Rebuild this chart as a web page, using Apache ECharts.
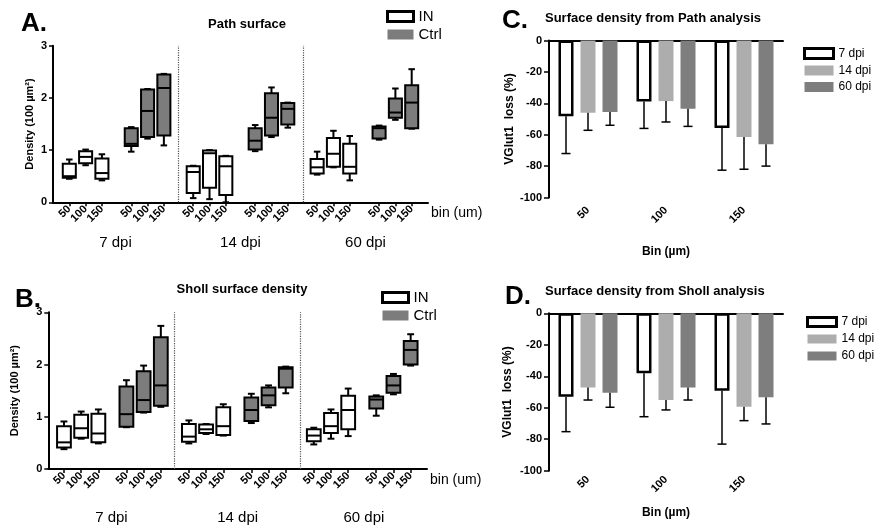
<!DOCTYPE html>
<html>
<head>
<meta charset="utf-8">
<script src="https://cdn.jsdelivr.net/npm/echarts@6/dist/echarts.min.js"></script>
<style>html,body{margin:0;padding:0;background:#fff;}#c{width:880px;height:525px;}</style>
</head>
<body>
<div id="c"></div>
<script>
// ---------- data ----------
const dpiLabels = ['7 dpi', '14 dpi', '60 dpi'];
const binLabels = ['50', '100', '150'];
// box stats: [min, Q1, median, Q3, max], ordered 7dpi(50,100,150), 14dpi(...), 60dpi(...)
const pathIN = [
  [0.45, 0.47, 0.50, 0.74, 0.82], [0.71, 0.75, 0.87, 0.98, 1.01], [0.42, 0.45, 0.56, 0.84, 0.92],
  [0.08, 0.18, 0.58, 0.69, 0.70], [0.06, 0.28, 0.94, 0.99, 1.00], [0.00, 0.14, 0.69, 0.88, 0.89],
  [0.53, 0.55, 0.67, 0.83, 0.97], [0.67, 0.68, 0.93, 1.23, 1.37], [0.42, 0.55, 0.68, 1.12, 1.27]
];
const pathCtrl = [
  [0.97, 1.08, 1.12, 1.42, 1.44], [1.22, 1.25, 1.75, 2.16, 2.17], [1.09, 1.28, 2.19, 2.45, 2.46],
  [0.98, 1.01, 1.18, 1.42, 1.48], [1.25, 1.28, 1.62, 2.09, 2.20], [1.43, 1.49, 1.79, 1.90, 1.91],
  [1.20, 1.22, 1.42, 1.45, 1.47], [1.58, 1.62, 1.72, 1.99, 2.18], [1.41, 1.42, 1.91, 2.24, 2.55]
];
const shollIN = [
  [0.38, 0.41, 0.51, 0.82, 0.91], [0.58, 0.60, 0.78, 1.04, 1.10], [0.49, 0.51, 0.68, 1.06, 1.14],
  [0.49, 0.52, 0.62, 0.86, 0.93], [0.67, 0.69, 0.76, 0.85, 0.86], [0.64, 0.65, 0.82, 1.18, 1.24],
  [0.47, 0.53, 0.64, 0.76, 0.79], [0.58, 0.69, 0.82, 1.07, 1.14], [0.63, 0.76, 1.13, 1.40, 1.54]
];
const shollCtrl = [
  [0.80, 0.81, 1.05, 1.58, 1.70], [1.08, 1.09, 1.32, 1.87, 1.98], [1.19, 1.21, 1.60, 2.52, 2.74],
  [0.88, 0.92, 1.13, 1.37, 1.44], [1.18, 1.22, 1.41, 1.56, 1.60], [1.45, 1.56, 1.92, 1.95, 1.96],
  [1.02, 1.16, 1.33, 1.39, 1.41], [1.43, 1.46, 1.60, 1.78, 1.82], [1.98, 2.00, 2.28, 2.45, 2.58]
];
// VGlut1 loss (%) means and error (SD) per bin 50/100/150
const pathLoss7 = [-48.3, -38.8, -55.7];
const pathErr7 = [23.7, 17.2, 26.9];
const pathLoss14 = [-46.0, -38.6, -61.4];
const pathErr14 = [11.2, 13.3, 20.6];
const pathLoss60 = [-45.6, -43.4, -66.1];
const pathErr60 = [8.4, 11.3, 13.9];
const shollLoss7 = [-53.0, -38.1, -49.2];
const shollErr7 = [22.2, 27.6, 33.9];
const shollLoss14 = [-47.2, -55.1, -59.3];
const shollErr14 = [7.9, 6.3, 8.9];
const shollLoss60 = [-50.4, -47.2, -53.4];
const shollErr60 = [9.3, 7.9, 16.9];

// ---------- layout helpers ----------
const FONT = 'Liberation Sans, Arial, sans-serif';
const PATH_STEP = 3.8, SHOLL_STEP = 3.63;   // distance between triples (in box units)
const BAR_W = 15, BAR_GAP = 7;

function pos(step, triple, bin) { return triple * step + bin; }
function boxData(arr, step, isCtrl) {
  return arr.map((v, i) => [pos(step, Math.floor(i / 3) * 2 + isCtrl, i % 3)].concat(v));
}
function tickPositions(step) {
  const out = [];
  for (let t = 0; t < 6; t++) for (let b = 0; b < 3; b++) out.push(pos(step, t, b));
  return out;
}
function tickFormatter(step) {
  const m = {};
  tickPositions(step).forEach((p, i) => { m[p.toFixed(2)] = binLabels[i % 3]; });
  return v => m[Number(v).toFixed(2)] || '';
}
function boxItem(fill) {
  return function (params, api) {
    const x = api.value(0);
    const lo = api.coord([x, api.value(1)]);
    const q1 = api.coord([x, api.value(2)]);
    const md = api.coord([x, api.value(3)]);
    const q3 = api.coord([x, api.value(4)]);
    const hi = api.coord([x, api.value(5)]);
    const w = api.size([1, 0])[0] * 0.8;
    const cw = w * 0.5;
    const cx = lo[0];
    const s = { stroke: '#000', lineWidth: 2 };
    return { type: 'group', children: [
      { type: 'line', shape: { x1: cx, y1: q3[1], x2: cx, y2: hi[1] }, style: s },
      { type: 'line', shape: { x1: cx - cw / 2, y1: hi[1], x2: cx + cw / 2, y2: hi[1] }, style: s },
      { type: 'line', shape: { x1: cx, y1: q1[1], x2: cx, y2: lo[1] }, style: s },
      { type: 'line', shape: { x1: cx - cw / 2, y1: lo[1], x2: cx + cw / 2, y2: lo[1] }, style: s },
      { type: 'rect', shape: { x: cx - w / 2, y: q3[1], width: w, height: q1[1] - q3[1] }, style: { fill: fill, stroke: '#000', lineWidth: 2 } },
      { type: 'line', shape: { x1: cx - w / 2, y1: md[1], x2: cx + w / 2, y2: md[1] }, style: s }
    ]};
  };
}
function errItem(k) {
  return function (params, api) {
    const i = api.value(0);
    const a = api.coord([i, api.value(1)]);
    const b = api.coord([i, api.value(2)]);
    const off = (k - 1) * (BAR_W + BAR_GAP);
    const cx = a[0] + off;
    const s = { stroke: '#000', lineWidth: 1.5 };
    return { type: 'group', children: [
      { type: 'line', shape: { x1: cx, y1: a[1], x2: cx, y2: b[1] }, style: s },
      { type: 'line', shape: { x1: cx - 4.5, y1: b[1], x2: cx + 4.5, y2: b[1] }, style: s }
    ]};
  };
}
function errData(mean, err) { return mean.map((v, i) => [i, v, v - err[i]]); }

const axisLineStyle = { show: true, lineStyle: { color: '#000', width: 2 } };
const tickStyle = { show: true, length: 4, lineStyle: { color: '#000', width: 1.5 } };
const labelBold = { color: '#000', fontFamily: FONT, fontWeight: 'bold', fontSize: 11 };

function binAxis(grid, step, min, max) {
  const ticks = tickPositions(step);
  return {
    type: 'value', gridIndex: grid, position: 'bottom', min: min, max: max,
    axisLine: Object.assign({ onZero: false }, axisLineStyle),
    axisTick: Object.assign({ customValues: ticks }, tickStyle),
    axisLabel: Object.assign({ customValues: ticks, rotate: 45, margin: 5, formatter: tickFormatter(step),
      showMinLabel: true, showMaxLabel: true, hideOverlap: false }, labelBold),
    splitLine: { show: false },
    name: 'bin (um)', nameLocation: 'end', nameGap: 3,
    nameTextStyle: { color: '#000', fontFamily: FONT, fontSize: 14, verticalAlign: 'top', lineHeight: 22 }
  };
}
function dpiAxis(grid, margin) {
  return {
    type: 'category', gridIndex: grid, position: 'bottom', data: dpiLabels,
    axisLine: { show: false }, axisTick: { show: false }, splitLine: { show: false },
    axisLabel: { margin: margin, color: '#000', fontFamily: FONT, fontSize: 15 }
  };
}
function densityAxis(grid, gap) {
  return {
    type: 'value', gridIndex: grid, min: 0, max: 3, interval: 1,
    axisLine: Object.assign({ onZero: false }, axisLineStyle),
    axisTick: tickStyle, axisLabel: Object.assign({ margin: 6 }, labelBold),
    splitLine: { show: false },
    name: 'Density (100 µm²)', nameLocation: 'middle', nameGap: gap,
    nameTextStyle: { color: '#000', fontFamily: FONT, fontWeight: 'bold', fontSize: 11 }
  };
}
function lossAxis(grid, gap) {
  return {
    type: 'value', gridIndex: grid, min: -100, max: 0, interval: 20,
    axisLine: Object.assign({ onZero: false }, axisLineStyle),
    axisTick: { show: true, length: 5, lineStyle: { color: '#000', width: 1.5 } },
    axisLabel: Object.assign({ margin: 7 }, labelBold),
    splitLine: { show: false },
    name: 'VGlut1  loss (%)', nameLocation: 'middle', nameGap: gap,
    nameTextStyle: { color: '#000', fontFamily: FONT, fontWeight: 'bold', fontSize: 12 }
  };
}
function binCatBottom(grid, gap, margin) {
  return {
    type: 'category', gridIndex: grid, position: 'bottom', data: binLabels,
    axisLine: { show: false, onZero: false }, axisTick: { show: false },
    axisLabel: Object.assign({ rotate: 45, margin: margin }, labelBold),
    name: 'Bin (µm)', nameLocation: 'middle', nameGap: gap,
    nameTextStyle: { color: '#000', fontFamily: FONT, fontWeight: 'bold', fontSize: 12 }
  };
}
function binCatTop(grid) {
  return {
    type: 'category', gridIndex: grid, position: 'top', data: binLabels,
    axisLine: Object.assign({ onZero: false }, axisLineStyle),
    axisTick: { show: false }, axisLabel: { show: false }
  };
}
function sepLines(min, max) {
  const span = max - min;
  return {
    silent: true, symbol: 'none', label: { show: false },
    lineStyle: { type: 'dotted', color: '#555', width: 1.2 },
    data: [{ xAxis: min + span / 3 }, { xAxis: min + 2 * span / 3 }]
  };
}

const CTRL_COLOR = '#7c7c7c';
const C14 = '#adadad', C60 = '#7e7e7e';
const A_MIN = -1, A_MAX = 22, B_MIN = -0.91, B_MAX = 21.1;

function barSeries(name, data, xi, yi, style) {
  return { type: 'bar', name: name, data: data, xAxisIndex: xi, yAxisIndex: yi,
    barWidth: BAR_W, barGap: (BAR_GAP / BAR_W * 100).toFixed(1) + '%', itemStyle: style, z: 2 };
}
function errSeries(name, mean, err, k, xi, yi) {
  return { type: 'custom', name: name + ' err', xAxisIndex: xi, yAxisIndex: yi,
    data: errData(mean, err), renderItem: errItem(k), encode: { x: 0, y: [1, 2] }, z: 3 };
}
const S7 = { color: '#fff', borderColor: '#000', borderWidth: 2.5 };
const S14 = { color: C14 };
const S60 = { color: C60 };

const titleStyle = { color: '#000', fontFamily: FONT, fontWeight: 'bold', fontSize: 13 };
const letterStyle = { color: '#000', fontFamily: FONT, fontWeight: 'bold', fontSize: 26 };

const legendBox = (left, top, gap) => ({
  left: left, top: top, padding: 0, orient: 'vertical', itemWidth: 26, itemHeight: 10, itemGap: gap, selectedMode: false,
  textStyle: { color: '#000', fontFamily: FONT, fontSize: 15 },
  data: [
    { name: 'IN', icon: 'rect', itemStyle: { color: '#fff', borderColor: '#000', borderWidth: 3 } },
    { name: 'Ctrl', icon: 'rect', itemStyle: { color: CTRL_COLOR, borderWidth: 0 } }
  ]
});
const legendBar = (left, top, gap, h) => ({
  left: left, top: top, padding: 0, orient: 'vertical', itemWidth: 29, itemHeight: h, itemGap: gap, selectedMode: false,
  textStyle: { color: '#000', fontFamily: FONT, fontSize: 12 },
  data: [
    { name: '7 dpi', icon: 'rect', itemStyle: { color: '#fff', borderColor: '#000', borderWidth: 3 } },
    { name: '14 dpi', icon: 'rect', itemStyle: { color: C14, borderWidth: 0 } },
    { name: '60 dpi', icon: 'rect', itemStyle: { color: C60, borderWidth: 0 } }
  ]
});

const option = {
  animation: false,
  backgroundColor: '#fff',
  title: [
    { text: 'A.', left: 16, top: 6, textStyle: letterStyle },
    { text: 'Path surface', left: 242, top: 13, textAlign: 'center', textStyle: titleStyle },
    { text: 'B.', left: 10, top: 282, textStyle: letterStyle },
    { text: 'Sholl surface density', left: 237, top: 278, textAlign: 'center', textStyle: titleStyle },
    { text: 'C.', left: 497, top: 3, textStyle: letterStyle },
    { text: 'Surface density from Path analysis', left: 540, top: 7, textStyle: titleStyle },
    { text: 'D.', left: 500, top: 279, textStyle: letterStyle },
    { text: 'Surface density from Sholl analysis', left: 540, top: 280, textStyle: titleStyle }
  ],
  legend: [legendBox(386, 9, 3), legendBox(381, 290, 3), legendBar(803, 47, 4.5, 10), legendBar(806, 316, 5, 9)],
  grid: [
    { left: 53, top: 45.7, width: 375, height: 156.6 },
    { left: 48.3, top: 312.3, width: 378.7, height: 157 },
    { left: 549, top: 40.5, width: 234, height: 157 },
    { left: 549, top: 313.3, width: 234, height: 157.4 }
  ],
  xAxis: [
    binAxis(0, PATH_STEP, A_MIN, A_MAX),
    dpiAxis(0, 33),
    binAxis(1, SHOLL_STEP, B_MIN, B_MAX),
    dpiAxis(1, 41),
    binCatBottom(2, 48, 11),
    binCatTop(2),
    binCatBottom(3, 36, 7),
    binCatTop(3)
  ],
  yAxis: [densityAxis(0, 18), densityAxis(1, 28), lossAxis(2, 25), lossAxis(3, 35)],
  series: [
    { type: 'custom', name: 'IN', xAxisIndex: 0, yAxisIndex: 0, data: boxData(pathIN, PATH_STEP, 0),
      renderItem: boxItem('#fff'), encode: { x: 0, y: [1, 2, 3, 4, 5] }, itemStyle: { color: '#fff' },
      markLine: sepLines(A_MIN, A_MAX), z: 3 },
    { type: 'custom', name: 'Ctrl', xAxisIndex: 0, yAxisIndex: 0, data: boxData(pathCtrl, PATH_STEP, 1),
      renderItem: boxItem(CTRL_COLOR), encode: { x: 0, y: [1, 2, 3, 4, 5] }, itemStyle: { color: CTRL_COLOR }, z: 3 },
    { type: 'custom', name: 'IN', xAxisIndex: 2, yAxisIndex: 1, data: boxData(shollIN, SHOLL_STEP, 0),
      renderItem: boxItem('#fff'), encode: { x: 0, y: [1, 2, 3, 4, 5] }, itemStyle: { color: '#fff' },
      markLine: sepLines(B_MIN, B_MAX), z: 3 },
    { type: 'custom', name: 'Ctrl', xAxisIndex: 2, yAxisIndex: 1, data: boxData(shollCtrl, SHOLL_STEP, 1),
      renderItem: boxItem(CTRL_COLOR), encode: { x: 0, y: [1, 2, 3, 4, 5] }, itemStyle: { color: CTRL_COLOR }, z: 3 },

    barSeries('7 dpi', pathLoss7, 4, 2, S7),
    barSeries('14 dpi', pathLoss14, 4, 2, S14),
    barSeries('60 dpi', pathLoss60, 4, 2, S60),
    errSeries('7 dpi', pathLoss7, pathErr7, 0, 4, 2),
    errSeries('14 dpi', pathLoss14, pathErr14, 1, 4, 2),
    errSeries('60 dpi', pathLoss60, pathErr60, 2, 4, 2),

    barSeries('7 dpi', shollLoss7, 6, 3, S7),
    barSeries('14 dpi', shollLoss14, 6, 3, S14),
    barSeries('60 dpi', shollLoss60, 6, 3, S60),
    errSeries('7 dpi', shollLoss7, shollErr7, 0, 6, 3),
    errSeries('14 dpi', shollLoss14, shollErr14, 1, 6, 3),
    errSeries('60 dpi', shollLoss60, shollErr60, 2, 6, 3)
  ]
};

const chart = echarts.init(document.getElementById('c'), null, { renderer: 'canvas' });
chart.setOption(option);
</script>
</body>
</html>
